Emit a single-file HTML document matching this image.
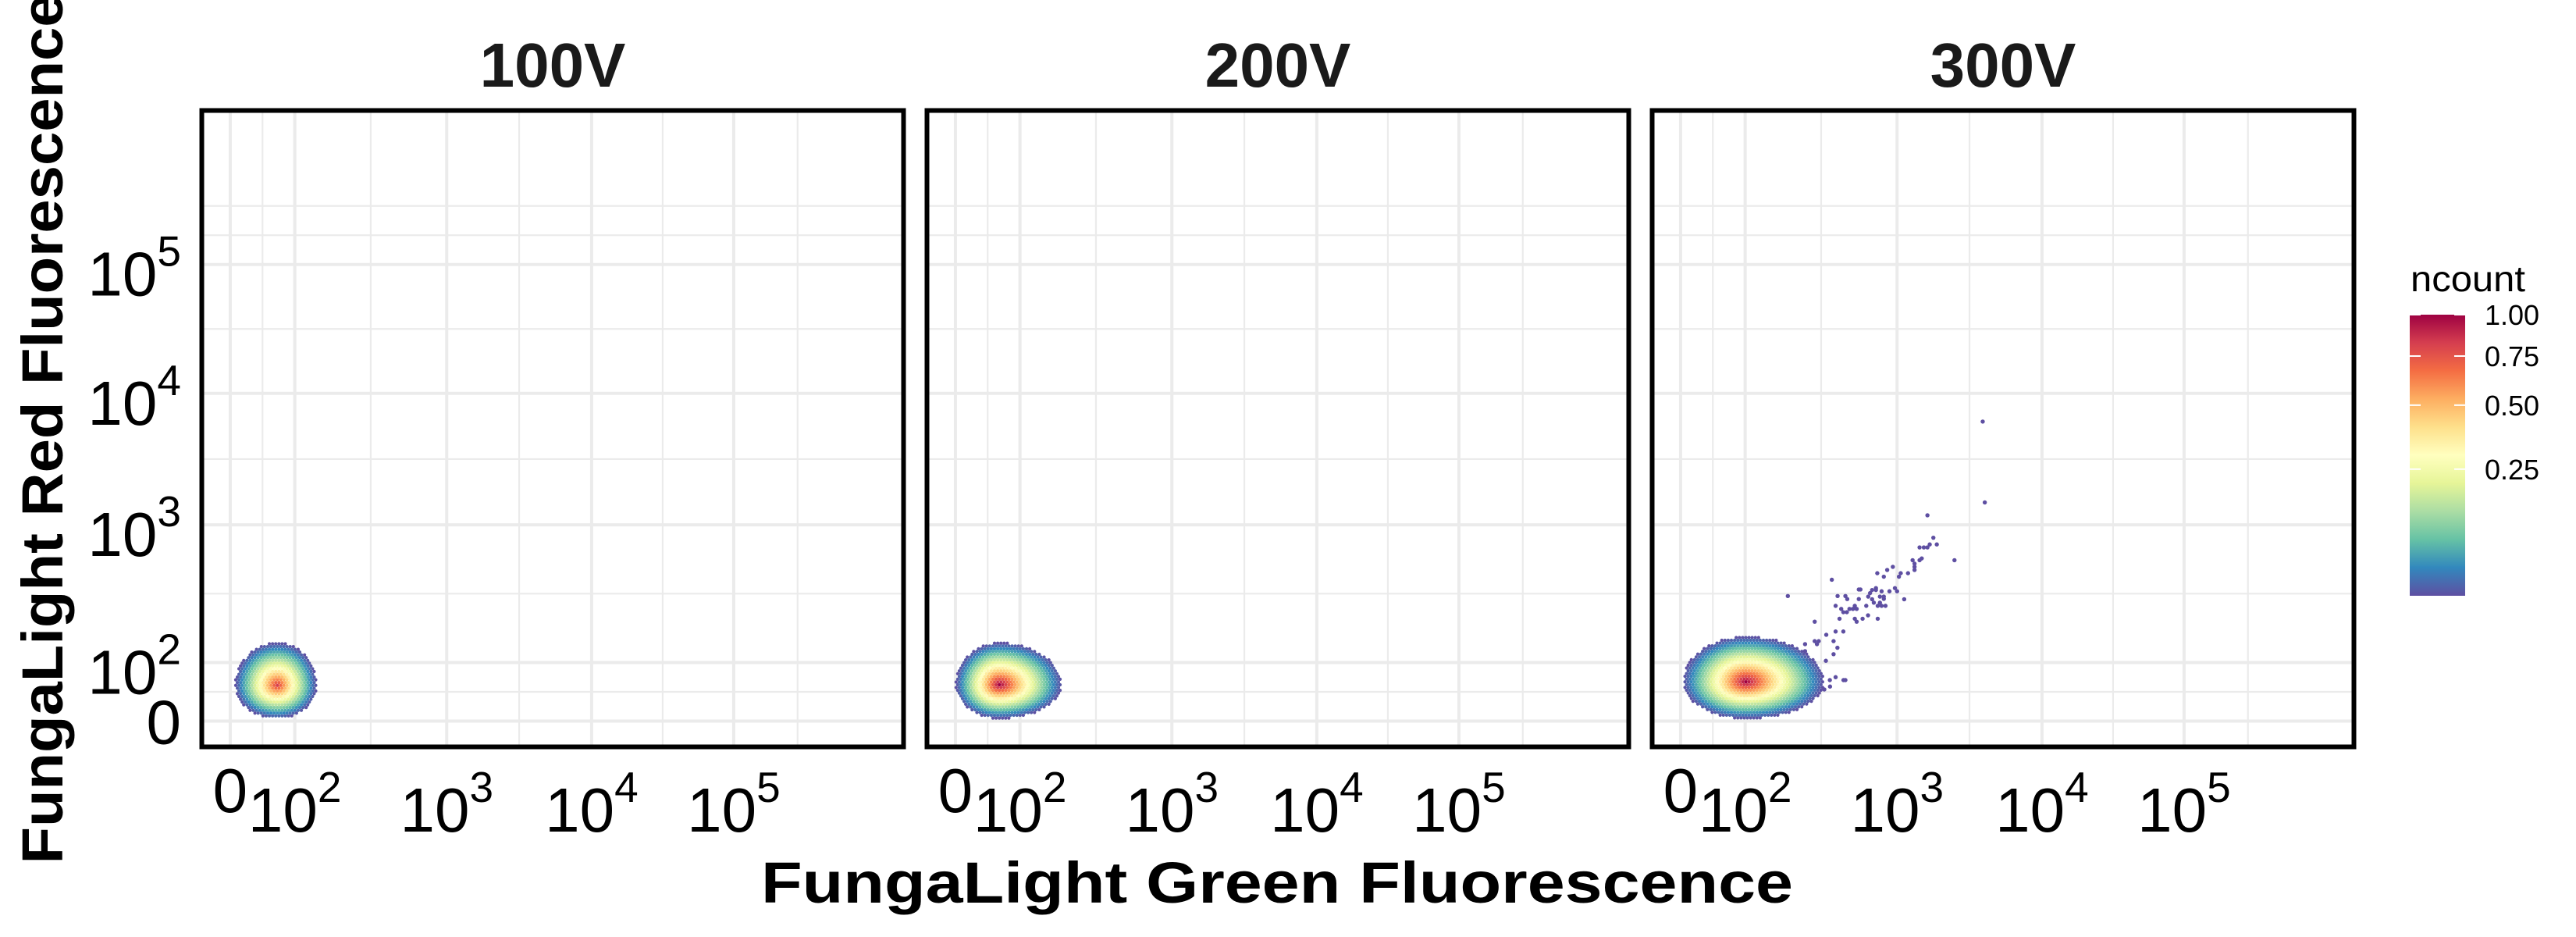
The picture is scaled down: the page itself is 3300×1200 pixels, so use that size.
<!DOCTYPE html>
<html>
<head>
<meta charset="utf-8">
<style>
  html,body{margin:0;padding:0;background:#fff;}
  svg{display:block;font-family:"Liberation Sans","DejaVu Sans",sans-serif;}
</style>
</head>
<body>
<svg id="chart" xmlns="http://www.w3.org/2000/svg" width="3300" height="1200" viewBox="0 0 3300 1200">
  <rect x="0" y="0" width="3300" height="1200" fill="#ffffff"/>
  <g id="grids"></g>
  <g id="hexes"></g>
  <g id="frames"></g>
  <g id="labels"></g>

  <text x="80" y="549" transform="rotate(-90 80 549)" text-anchor="middle" font-size="74" font-weight="bold" fill="#000" textLength="1115" lengthAdjust="spacingAndGlyphs">FungaLight Red Fluorescence</text>
  <text x="1636" y="1156" text-anchor="middle" font-size="74" font-weight="bold" fill="#000" textLength="1322" lengthAdjust="spacingAndGlyphs">FungaLight Green Fluorescence</text>

  <g>
    <defs>
      <linearGradient id="spec" x1="0" y1="1" x2="0" y2="0">
        <stop offset="0" stop-color="#5E4FA2"/>
        <stop offset="0.1" stop-color="#3288BD"/>
        <stop offset="0.2" stop-color="#66C2A5"/>
        <stop offset="0.3" stop-color="#ABDDA4"/>
        <stop offset="0.4" stop-color="#E6F598"/>
        <stop offset="0.5" stop-color="#FFFFBF"/>
        <stop offset="0.6" stop-color="#FEE08B"/>
        <stop offset="0.7" stop-color="#FDAE61"/>
        <stop offset="0.8" stop-color="#F46D43"/>
        <stop offset="0.9" stop-color="#D53E4F"/>
        <stop offset="1" stop-color="#9E0142"/>
      </linearGradient>
    </defs>
    <text x="3088" y="373" font-size="46" fill="#000" textLength="147" lengthAdjust="spacingAndGlyphs">ncount</text>
    <rect x="3087" y="403" width="71" height="360" fill="url(#spec)"/>
    <g id="legendTicks"></g>
  </g>
</svg>
<script>
// ---- data ----
const panelNames = ["100V", "200V", "300V"];
const majorTickValues = [0, 100, 1000, 10000, 100000];
const majorTickExponents = ["", "2", "3", "4", "5"];
// cluster summaries (data units for centers; spreads in transformed units)
const clusterCenterGreen = [73, 68, 101];
const clusterCenterRed = [61, 62, 67];
const clusterSpreadLeft = [0.060, 0.062, 0.089];
const clusterSpreadRight = [0.056, 0.089, 0.111];
const clusterSpreadUp = [0.067, 0.066, 0.071];
const clusterSpreadDown = [0.052, 0.053, 0.058];
const clusterPeak = [0.9, 1.0, 1.0];
// individual outlier events in the 300V panel
const outlierGreen = [3900,4030,1620,1780,1880,1430,1530,1620,1680,2490,1280,1480,1430,1320,1320,1320,1190,1060,1030,938,861,741,818,726,968,1000,891,791,818,1120,685,726,664,646,771,818,685,703,746,791,839,771,560,574,560,627,542,512,486,443,467,429,394,418,372,406,457,470,527,644,746,593,542,527,191,287,342,394,443,382,405,382,340,287,305,297,248,248,361,394,444,457,332,362];
const outlierRed = [6100,1480,1180,805,720,685,685,685,720,553,553,570,553,522,495,470,445,445,420,495,470,445,420,347,347,329,329,329,290,288,336,336,319,301,301,301,288,272,258,258,258,272,339,339,289,258,245,245,245,232,232,245,258,208,399,304,304,289,258,220,208,208,198,208,304,198,159,168,168,143,128,115,103,143,143,136,136,121,70,75,70,70,54,59];
const legendValues = [1.00, 0.75, 0.50, 0.25];
const legendLabels = ["1.00", "0.75", "0.50", "0.25"];

// ---- layout ----
const NS = "http://www.w3.org/2000/svg";
const panelLeft = [258.5, 1187.5, 2116.5];
const panelTop = 141.5, panelW = 899, panelH = 815;
const spectral = ["#5E4FA2","#3288BD","#66C2A5","#ABDDA4","#E6F598","#FFFFBF","#FEE08B","#FDAE61","#F46D43","#D53E4F","#9E0142"];

function tr(v) {
  if (v <= 100) return 0.0405 + v / 100 * 0.092;
  const l = Math.log10(v);
  if (l <= 3) return 0.1325 + (l - 2) * 0.2165;
  if (l <= 4) return 0.349 + (l - 3) * 0.2065;
  return 0.5555 + (l - 4) * 0.2025;
}
function xScale(p, v) { return panelLeft[p] + tr(v) * panelW; }
function yScale(v) { return panelTop + panelH - tr(v) * panelH; }
function hex2rgb(h){return [parseInt(h.slice(1,3),16),parseInt(h.slice(3,5),16),parseInt(h.slice(5,7),16)];}
function spectralColor(f) {
  f = Math.max(0, Math.min(1, f));
  const s = f * 10, i = Math.min(9, Math.floor(s)), t = s - i;
  const a = hex2rgb(spectral[i]), b = hex2rgb(spectral[i + 1]);
  return "rgb(" + a.map((c, k) => Math.round(c + (b[k] - c) * t)).join(",") + ")";
}
function legendFrac(n) { return (Math.sqrt(n) - 0.09) / 0.91; }
function mk(tag, attrs, parent) {
  const e = document.createElementNS(NS, tag);
  for (const k in attrs) e.setAttribute(k, attrs[k]);
  parent.appendChild(e);
  return e;
}

const grids = document.getElementById("grids");
const hexes = document.getElementById("hexes");
const frames = document.getElementById("frames");
const labels = document.getElementById("labels");

const majorU = majorTickValues.map(tr);
const minorU = [];
for (let i = 0; i < majorU.length - 1; i++) minorU.push((majorU[i] + majorU[i + 1]) / 2);
const minorUx = minorU.concat([0.849]);
const minorUy = minorU.concat([0.804, 0.850]);

for (let p = 0; p < 3; p++) {
  const L = panelLeft[p];
  minorUx.forEach(u => {
    const ln = mk("line", {x1: L + u * panelW, x2: L + u * panelW, y1: panelTop, y2: panelTop + panelH, stroke: "#ebebeb", "stroke-width": 2.2}, grids);
    
    
  });
  minorUy.forEach(u => {
    const y = panelTop + panelH - u * panelH;
    const ln = mk("line", {x1: L, x2: L + panelW, y1: y, y2: y, stroke: "#ebebeb", "stroke-width": 2.2}, grids);
    
    
  });
  majorTickValues.forEach(v => {
    const x = xScale(p, v), y = yScale(v);
    const a = mk("line", {x1: x, x2: x, y1: panelTop, y2: panelTop + panelH, stroke: "#ebebeb", "stroke-width": 4}, grids);
    
    
    const b = mk("line", {x1: L, x2: L + panelW, y1: y, y2: y, stroke: "#ebebeb", "stroke-width": 4}, grids);
    
    
  });

  const cx = xScale(p, clusterCenterGreen[p]), cy = yScale(clusterCenterRed[p]);
  const sl = clusterSpreadLeft[p] * panelW, sr = clusterSpreadRight[p] * panelW;
  const su = clusterSpreadUp[p] * panelH, sd = clusterSpreadDown[p] * panelH;
  const dxs = 4.1, dys = 3.55;
  for (let j = -Math.ceil(su / dys) - 1; j <= Math.ceil(sd / dys) + 1; j++) {
    const off = (Math.abs(j) % 2) ? dxs / 2 : 0;
    for (let i = -Math.ceil(sl / dxs) - 1; i <= Math.ceil(sr / dxs) + 1; i++) {
      const ox = i * dxs + off, oy = j * dys;
      const d = Math.sqrt(Math.pow(ox / (ox < 0 ? sl : sr), 2) + Math.pow(oy / (oy < 0 ? su : sd), 2));
      if (d > 1) continue;
      const f = clusterPeak[p] * Math.pow(1 - d, 1.15);
      const c = mk("circle", {cx: cx + ox, cy: cy + oy, r: 2.1, fill: spectralColor(f)}, hexes);
      
      
    }
  }

  const fr = mk("rect", {x: L, y: panelTop, width: panelW, height: panelH, fill: "none", stroke: "#000", "stroke-width": 6}, frames);
  
  

  const st = mk("text", {x: L + panelW / 2, y: 111, "text-anchor": "middle", "font-size": 80, "font-weight": "bold", fill: "#1a1a1a"}, labels);
  st.textContent = panelNames[p];
  
  

  majorTickValues.forEach((v, k) => {
    const t = mk("text", {x: xScale(p, v), "text-anchor": "middle", fill: "#000"}, labels);
    
    
    if (majorTickExponents[k] === "") {
      t.setAttribute("y", 1040); t.setAttribute("font-size", 80);
      t.textContent = "0";
    } else {
      t.setAttribute("y", 1065); t.setAttribute("font-size", 80);
      const b = mk("tspan", {}, t); b.textContent = "10";
      const s = mk("tspan", {"font-size": 55, dy: -38}, t); s.textContent = majorTickExponents[k];
    }
  });
}

majorTickValues.forEach((v, k) => {
  const y = yScale(v);
  const t = mk("text", {x: 232, "text-anchor": "end", fill: "#000", "font-size": 80}, labels);
  
  
  if (majorTickExponents[k] === "") {
    t.setAttribute("y", y + 29);
    t.textContent = "0";
  } else {
    t.setAttribute("y", y + 40);
    const b = mk("tspan", {}, t); b.textContent = "10";
    const s = mk("tspan", {"font-size": 55, dy: -38}, t); s.textContent = majorTickExponents[k];
  }
});

outlierGreen.forEach((g, i) => {
  const c = mk("circle", {cx: xScale(2, g), cy: yScale(outlierRed[i]), r: 2.7, fill: "#5E4FA2"}, hexes);
  
  
});

const lt = document.getElementById("legendTicks");
legendValues.forEach((v, i) => {
  const y = 763 - legendFrac(v) * 360;
  const a = mk("line", {x1: 3087, x2: 3101, y1: y, y2: y, stroke: "#fff", "stroke-width": 2}, lt);
  
  
  const b = mk("line", {x1: 3144, x2: 3158, y1: y, y2: y, stroke: "#fff", "stroke-width": 2}, lt);
  
  
  const t = mk("text", {x: 3183, y: y + 13, "font-size": 36, fill: "#000"}, lt);
  t.textContent = legendLabels[i];
  
  
});
</script>
</body>
</html>
